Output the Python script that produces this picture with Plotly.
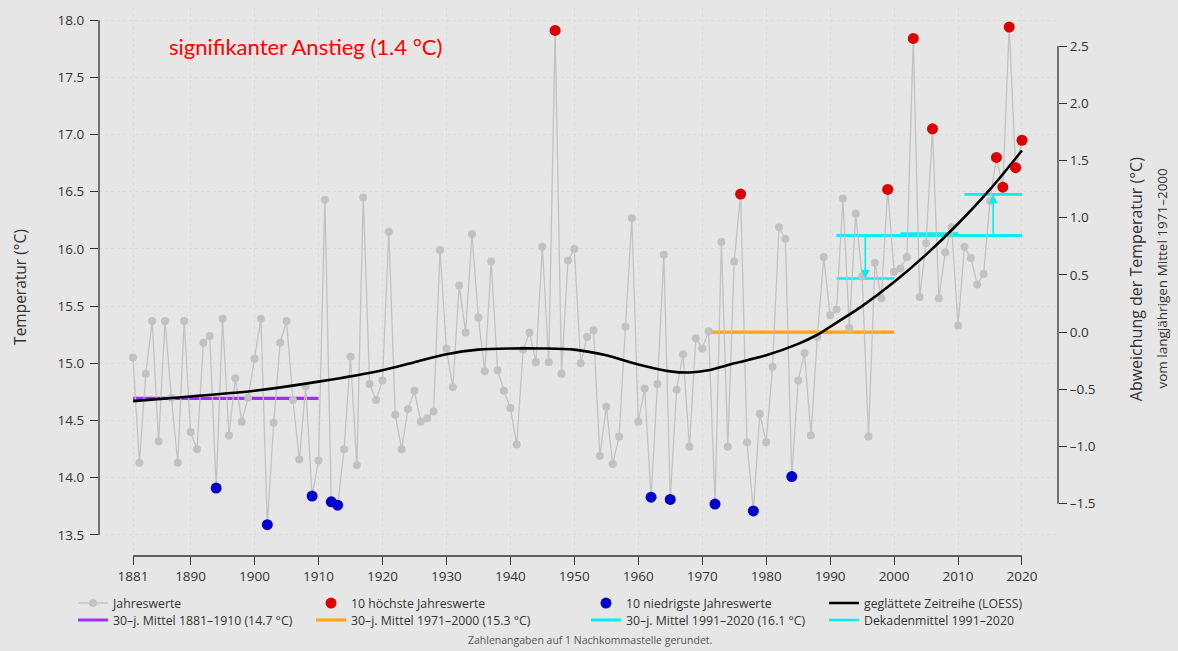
import numpy as np
import plotly.graph_objects as go

# ---------------- data ----------------
years = list(range(1881, 2021))
temps = [
    15.05, 14.13, 14.91, 15.37, 14.32, 15.37, 14.70, 14.13, 15.37, 14.40,  # 1881-1890
    14.25, 15.18, 15.24, 13.91, 15.39, 14.37, 14.87, 14.49, 14.70, 15.04,  # 1891-1900
    15.39, 13.59, 14.48, 15.18, 15.37, 14.68, 14.16, 14.80, 13.84, 14.15,  # 1901-1910
    16.43, 13.79, 13.76, 14.25, 15.06, 14.11, 16.45, 14.82, 14.68, 14.85,  # 1911-1920
    16.15, 14.55, 14.25, 14.60, 14.76, 14.49, 14.52, 14.58, 15.99, 15.13,  # 1921-1930
    14.79, 15.68, 15.27, 16.13, 15.40, 14.93, 15.89, 14.94, 14.76, 14.61,  # 1931-1940
    14.29, 15.12, 15.27, 15.01, 16.02, 15.01, 17.91, 14.91, 15.90, 16.00,  # 1941-1950
    15.00, 15.23, 15.29, 14.19, 14.62, 14.12, 14.36, 15.32, 16.27, 14.49,  # 1951-1960
    14.78, 13.83, 14.82, 15.95, 13.81, 14.77, 15.08, 14.27, 15.22, 15.13,  # 1961-1970
    15.28, 13.77, 16.06, 14.27, 15.89, 16.48, 14.31, 13.71, 14.56, 14.31,  # 1971-1980
    14.97, 16.19, 16.09, 14.01, 14.85, 15.09, 14.37, 15.23, 15.93, 15.42,  # 1981-1990
    15.47, 16.44, 15.31, 16.31, 15.76, 14.36, 15.88, 15.57, 16.52, 15.80,  # 1991-2000
    15.83, 15.93, 17.84, 15.58, 16.05, 17.05, 15.57, 15.97, 16.19, 15.33,  # 2001-2010
    16.02, 15.92, 15.69, 15.78, 16.42, 16.80, 16.54, 17.94, 16.71, 16.95,  # 2011-2020
]

loess_years = [1881, 1890, 1900, 1910, 1920, 1925, 1930, 1935, 1940, 1945, 1950,
               1955, 1960, 1965, 1968, 1971, 1975, 1980, 1985, 1988, 1990, 1995,
               2000, 2005, 2010, 2015, 2020]
loess_temps = [14.67, 14.71, 14.76, 14.84, 14.94, 15.01, 15.08, 15.12, 15.13, 15.13, 15.12,
               15.07, 14.99, 14.93, 14.92, 14.94, 15.00, 15.07, 15.17, 15.25, 15.32, 15.50,
               15.71, 15.95, 16.22, 16.52, 16.86]

period_early = (1881, 1910)
period_ref = (1971, 2000)
period_recent = (1991, 2020)
decades = [(1991, 2000), (2001, 2010), (2011, 2020)]

x_ticks = [1881, 1890, 1900, 1910, 1920, 1930, 1940, 1950, 1960, 1970, 1980, 1990, 2000, 2010, 2020]
y_ticks = [13.5, 14.0, 14.5, 15.0, 15.5, 16.0, 16.5, 17.0, 17.5, 18.0]
y2_ticks = [-1.5, -1.0, -0.5, 0.0, 0.5, 1.0, 1.5, 2.0, 2.5]

labels = {
    "years": "Jahreswerte",
    "high": "10 höchste Jahreswerte",
    "low": "10 niedrigste Jahreswerte",
    "loess": "geglättete Zeitreihe (LOESS)",
    "early": "30–j. Mittel 1881–1910 (14.7 °C)",
    "ref": "30–j. Mittel 1971–2000 (15.3 °C)",
    "recent": "30–j. Mittel 1991–2020 (16.1 °C)",
    "decade": "Dekadenmittel 1991–2020",
}

# ---------------- derived ----------------
yr = np.array(years)
tv = np.array(temps)


def pmean(a, b):
    m = (yr >= a) & (yr <= b)
    return float(tv[m].mean())


m_early = pmean(*period_early)
m_ref = pmean(*period_ref)
m_recent = pmean(*period_recent)
dec_means = [pmean(a, b) for a, b in decades]

order = np.argsort(tv)
low_idx = sorted(order[:10])
high_idx = sorted(order[-10:])

# ---------------- style ----------------
FONT = "Open Sans"
BG = "#e6e6e6"
GRAY = "#c2c2c2"
RED = "#dd0000"
BLUE = "#0000cc"
PURPLE = "#9b30ff"
ORANGE = "#ffa500"
CYAN = "#00f0f0"
AX = "#333333"
GRID = "#dbdbdb"

Y_RANGE = [13.316, 18.106]
X_RANGE = [1875.68, 2025.63]

fig = go.Figure()

# 30-year means
fig.add_trace(go.Scatter(x=list(period_early), y=[m_early, m_early], mode="lines",
                         line=dict(color=PURPLE, width=3.2), name=labels["early"],
                         legend="legend5", hoverinfo="skip"))
fig.add_trace(go.Scatter(x=list(period_ref), y=[m_ref, m_ref], mode="lines",
                         line=dict(color=ORANGE, width=3.2), name=labels["ref"],
                         legend="legend6", hoverinfo="skip"))
fig.add_trace(go.Scatter(x=list(period_recent), y=[m_recent, m_recent], mode="lines",
                         line=dict(color=CYAN, width=3.2), name=labels["recent"],
                         legend="legend7", hoverinfo="skip"))
dx, dy = [], []
for (a, b), m in zip(decades, dec_means):
    dx += [a, b, None]
    dy += [m, m, None]
fig.add_trace(go.Scatter(x=dx, y=dy, mode="lines", line=dict(color=CYAN, width=2.6),
                         name=labels["decade"], legend="legend8", hoverinfo="skip"))

# annual values
fig.add_trace(go.Scatter(x=years, y=temps, mode="lines+markers",
                         line=dict(color=GRAY, width=1.3),
                         marker=dict(color=GRAY, size=8),
                         name=labels["years"], legend="legend"))

# LOESS
fig.add_trace(go.Scatter(x=loess_years, y=loess_temps, mode="lines",
                         line=dict(color="black", width=2.6, shape="spline", smoothing=0.8),
                         name=labels["loess"], legend="legend4", hoverinfo="skip"))

# extremes
fig.add_trace(go.Scatter(x=[years[i] for i in high_idx], y=[temps[i] for i in high_idx],
                         mode="markers", marker=dict(color=RED, size=11),
                         name=labels["high"], legend="legend2"))
fig.add_trace(go.Scatter(x=[years[i] for i in low_idx], y=[temps[i] for i in low_idx],
                         mode="markers", marker=dict(color=BLUE, size=11),
                         name=labels["low"], legend="legend3"))

# invisible trace anchoring the anomaly axis
fig.add_trace(go.Scatter(x=[years[0]], y=[0.0], yaxis="y2", mode="markers",
                         marker=dict(opacity=0), showlegend=False, hoverinfo="skip"))

# arrows from 30-year mean to decadal means
for (a, b), m in zip(decades, dec_means):
    xm = (a + b) / 2
    fig.add_annotation(x=xm, y=m, ax=xm, ay=m_recent, xref="x", yref="y",
                       axref="x", ayref="y", text="", showarrow=True,
                       arrowhead=2, arrowsize=1.1, arrowwidth=1.6, arrowcolor=CYAN)

# axis lines as shapes (limited extents as in the original)
fig.add_shape(type="line", xref="paper", yref="y", x0=0, x1=0, y0=y_ticks[0], y1=y_ticks[-1],
              line=dict(color=AX, width=1.3))
fig.add_shape(type="line", xref="paper", yref="y2", x0=1, x1=1, y0=y2_ticks[0], y1=y2_ticks[-1],
              line=dict(color=AX, width=1.3))
fig.add_shape(type="line", xref="x", yref="paper", x0=x_ticks[0], x1=x_ticks[-1], y0=0, y1=0,
              line=dict(color=AX, width=1.3))

# texts
fig.add_annotation(text="signifikanter Anstieg (1.4 °C)", xref="paper", yref="paper",
                   x=0.071, y=0.929, xanchor="left", yanchor="middle", showarrow=False,
                   font=dict(family="Lato", size=22, color="#ff0000"))
fig.add_annotation(text="Temperatur (°C)", xref="paper", yref="paper", x=-0.0824, y=0.491,
                   textangle=-90, showarrow=False, xanchor="center", yanchor="middle",
                   font=dict(family=FONT, size=15.5, color="#333"))
fig.add_annotation(text="Abweichung der Temperatur (°C)", xref="paper", yref="paper",
                   x=1.0813, y=0.505, textangle=-90, showarrow=False,
                   xanchor="center", yanchor="middle",
                   font=dict(family=FONT, size=16, color="#333"))
fig.add_annotation(text="vom langjährigen Mittel 1971–2000", xref="paper", yref="paper",
                   x=1.1084, y=0.508, textangle=-90, showarrow=False,
                   xanchor="center", yanchor="middle",
                   font=dict(family=FONT, size=13.5, color="#333"))
fig.add_annotation(text="Zahlenangaben auf 1 Nachkommastelle gerundet.", xref="paper",
                   yref="paper", x=0.512, y=-0.153, showarrow=False,
                   xanchor="center", yanchor="middle",
                   font=dict(family=FONT, size=10.5, color="#555"))

# one legend per entry, placed in a 4 x 2 grid like the original
col_x = [-0.0271, 0.2211, 0.5078, 0.7560]
row_y = [-0.0858, -0.1168]


def leg(col, row):
    return dict(x=col_x[col], y=row_y[row], xanchor="left", yanchor="middle",
                orientation="v", bgcolor="rgba(0,0,0,0)", borderwidth=0,
                font=dict(family=FONT, size=12.3, color="#333"), itemwidth=30)


def fmt(v):
    s = f"{abs(v):.1f}"
    return ("–" + s) if v < 0 else s


fig.update_layout(
    width=1178, height=651,
    paper_bgcolor=BG, plot_bgcolor=BG,
    margin=dict(l=99, r=120, t=8, b=95),
    showlegend=True,
    legend=leg(0, 0), legend2=leg(1, 0), legend3=leg(2, 0), legend4=leg(3, 0),
    legend5=leg(0, 1), legend6=leg(1, 1), legend7=leg(2, 1), legend8=leg(3, 1),
    xaxis=dict(range=X_RANGE, tickvals=x_ticks, ticktext=[str(v) for v in x_ticks],
               ticks="outside", ticklen=8, tickwidth=1.2, tickcolor=AX,
               showline=False, zeroline=False, showgrid=True, gridcolor=GRID,
               griddash="dot", gridwidth=1,
               tickfont=dict(family=FONT, size=13.5, color="#333")),
    yaxis=dict(range=Y_RANGE, tickvals=y_ticks, ticktext=[f"{v:.1f}" for v in y_ticks],
               ticks="outside", ticklen=8, tickwidth=1.2, tickcolor=AX,
               ticklabelstandoff=3,
               showline=False, zeroline=False, showgrid=True, gridcolor=GRID,
               griddash="dot", gridwidth=1,
               tickfont=dict(family=FONT, size=13.5, color="#333")),
    yaxis2=dict(range=[Y_RANGE[0] - m_ref, Y_RANGE[1] - m_ref], overlaying="y", side="right",
                tickvals=y2_ticks, ticktext=[fmt(v) for v in y2_ticks],
                ticks="outside", ticklen=8, tickwidth=1.2, tickcolor=AX,
                showline=False, zeroline=False, showgrid=False,
                tickfont=dict(family=FONT, size=13.5, color="#333")),
)

fig.write_html("out.html", config={"displayModeBar": False},
               post_script="document.body.style.margin='0';")
